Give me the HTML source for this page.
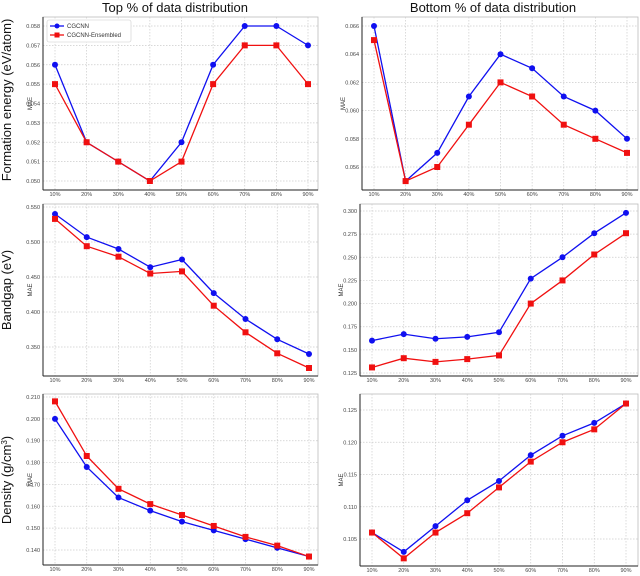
<!DOCTYPE html>
<html><head><meta charset="utf-8"><style>
body{margin:0;background:#fff;}
svg{display:block;font-family:"Liberation Sans",sans-serif;}
</style></head><body>
<svg id="c" width="640" height="576" viewBox="0 0 640 576"></svg>
<script>
const categories=["10%","20%","30%","40%","50%","60%","70%","80%","90%"];
const feTopBlue=[0.056,0.052,0.051,0.050,0.052,0.056,0.058,0.058,0.057];
const feTopRed=[0.055,0.052,0.051,0.050,0.051,0.055,0.057,0.057,0.055];
const feTopTicks=[0.050,0.051,0.052,0.053,0.054,0.055,0.056,0.057,0.058];
const feBotBlue=[0.066,0.055,0.057,0.061,0.064,0.063,0.061,0.060,0.058];
const feBotRed=[0.065,0.055,0.056,0.059,0.062,0.061,0.059,0.058,0.057];
const feBotTicks=[0.056,0.058,0.060,0.062,0.064,0.066];
const bgTopBlue=[0.540,0.507,0.490,0.464,0.475,0.427,0.390,0.361,0.340];
const bgTopRed=[0.533,0.494,0.479,0.455,0.458,0.409,0.371,0.341,0.320];
const bgTopTicks=[0.350,0.400,0.450,0.500,0.550];
const bgBotBlue=[0.160,0.167,0.162,0.164,0.169,0.227,0.250,0.276,0.298];
const bgBotRed=[0.131,0.141,0.137,0.140,0.144,0.200,0.225,0.253,0.276];
const bgBotTicks=[0.125,0.150,0.175,0.200,0.225,0.250,0.275,0.300];
const deTopBlue=[0.200,0.178,0.164,0.158,0.153,0.149,0.145,0.141,0.137];
const deTopRed=[0.208,0.183,0.168,0.161,0.156,0.151,0.146,0.142,0.137];
const deTopTicks=[0.140,0.150,0.160,0.170,0.180,0.190,0.200,0.210];
const deBotBlue=[0.106,0.103,0.107,0.111,0.114,0.118,0.121,0.123,0.126];
const deBotRed=[0.106,0.102,0.106,0.109,0.113,0.117,0.120,0.122,0.126];
const deBotTicks=[0.105,0.110,0.115,0.120,0.125];

const NS="http://www.w3.org/2000/svg";
const svg=document.getElementById('c');
function mk(tag,attrs,parent,text){const e=document.createElementNS(NS,tag);for(const k in attrs)e.setAttribute(k,attrs[k]);if(text!==undefined)e.textContent=text;(parent||svg).appendChild(e);return e;}

const panels=[
 {name:"formation-top",box:[43,17,318,190],x0:55,x1:308,v0:0.058,p0:26,v1:0.050,p1:181,ticks:feTopTicks,fmt:3,blue:feTopBlue,red:feTopRed,legend:true,maeX:32},
 {name:"formation-bottom",box:[362,17,638,190],x0:374,x1:627,v0:0.066,p0:26,v1:0.056,p1:167,ticks:feBotTicks,fmt:3,blue:feBotBlue,red:feBotRed,maeX:345},
 {name:"bandgap-top",box:[43,204,318,376],x0:55,x1:309,v0:0.550,p0:207,v1:0.350,p1:347,ticks:bgTopTicks,fmt:3,blue:bgTopBlue,red:bgTopRed,maeX:32},
 {name:"bandgap-bottom",box:[360,204,638,376],x0:372,x1:626,v0:0.300,p0:211,v1:0.125,p1:373,ticks:bgBotTicks,fmt:3,blue:bgBotBlue,red:bgBotRed,maeX:343},
 {name:"density-top",box:[43,394,318,565],x0:55,x1:309,v0:0.210,p0:397,v1:0.140,p1:550,ticks:deTopTicks,fmt:3,blue:deTopBlue,red:deTopRed,maeX:32},
 {name:"density-bottom",box:[360,394,638,566],x0:372,x1:626,v0:0.125,p0:410,v1:0.105,p1:539,ticks:deBotTicks,fmt:3,blue:deBotBlue,red:deBotRed,maeX:343},
];
panels.forEach(P=>{
 const g=mk('g',{});
 
 
 const [l,t,r,b]=P.box;
 const xs=i=>P.x0+(P.x1-P.x0)*i/(categories.length-1);
 const ys=v=>P.p0+(v-P.v0)*(P.p1-P.p0)/(P.v1-P.v0);
 mk('rect',{x:l,y:t,width:r-l,height:b-t,fill:'#fff',stroke:'#bbb','stroke-width':0.8},g);
 categories.forEach((c,i)=>{
  mk('line',{x1:xs(i),x2:xs(i),y1:t,y2:b,stroke:'#ccc','stroke-dasharray':'1.5,1.5','stroke-width':0.7},g);
  const tx=mk('text',{x:xs(i),y:b+6,'font-size':5.5,'text-anchor':'middle',fill:'#444'},g,c);
  
  
 });
 P.ticks.forEach(v=>{
  mk('line',{x1:l,x2:r,y1:ys(v),y2:ys(v),stroke:'#ccc','stroke-dasharray':'1.5,1.5','stroke-width':0.7},g);
  const tx=mk('text',{x:l-3,y:ys(v)+2,'font-size':5.5,'text-anchor':'end',fill:'#444'},g,v.toFixed(P.fmt));
  
  
 });
 mk('line',{x1:l,x2:l,y1:t,y2:b,stroke:'#222','stroke-width':1},g);
 mk('line',{x1:l,x2:r,y1:b,y2:b,stroke:'#222','stroke-width':1},g);
 const yl=mk('text',{x:0,y:0,'font-size':6,'text-anchor':'middle',fill:'#333',transform:`translate(${P.maeX},${(t+b)/2}) rotate(-90)`},g,'MAE');
 
 
 [['blue','#1010f0',P.blue],['red','#f01010',P.red]].forEach(([n,col,arr])=>{
  const pl=mk('polyline',{points:arr.map((v,i)=>xs(i)+','+ys(v)).join(' '),fill:'none',stroke:col,'stroke-width':1.3},g);
  
  
  arr.forEach((v,i)=>{
   let m;
   if(n==='blue')m=mk('circle',{cx:xs(i),cy:ys(v),r:3,fill:col},g);
   else m=mk('rect',{x:xs(i)-3,y:ys(v)-3,width:6,height:6,fill:col},g);
   
   
  });
 });
 if(P.legend){
  const lg=mk('g',{},g);
  
  
  mk('rect',{x:47,y:20,width:84,height:22,fill:'#fff',stroke:'#ccc','stroke-width':0.6,rx:2},lg);
  mk('line',{x1:50,x2:64,y1:26,y2:26,stroke:'#1010f0','stroke-width':1.3},lg);
  mk('circle',{cx:57,cy:26,r:2.5,fill:'#1010f0'},lg);
  mk('text',{x:67,y:28,'font-size':6,fill:'#333'},lg,'CGCNN');
  mk('line',{x1:50,x2:64,y1:35,y2:35,stroke:'#f01010','stroke-width':1.3},lg);
  mk('rect',{x:54.5,y:32.5,width:5,height:5,fill:'#f01010'},lg);
  mk('text',{x:67,y:37,'font-size':6,fill:'#333'},lg,'CGCNN-Ensembled');
 }
});
function title(x,y,s,name,rot){const t=mk('text',{x:0,y:0,'font-size':13,'text-anchor':'middle',fill:'#111',transform:`translate(${x},${y})`+(rot?' rotate(-90)':'')},svg,s);return t;}
title(175,12,'Top % of data distribution','top-column-title');
title(493,12,'Bottom % of data distribution','bottom-column-title');
title(11,100,'Formation energy (eV/atom)','formation-row-title',true);
title(11,290,'Bandgap (eV)','bandgap-row-title',true);
const d=title(11,480,'','density-row-title',true);
d.textContent='Density (g/cm';
const sup=mk('tspan',{dy:-4,'font-size':8},d,'3');
mk('tspan',{dy:4},d,')');
</script>
</body></html>
